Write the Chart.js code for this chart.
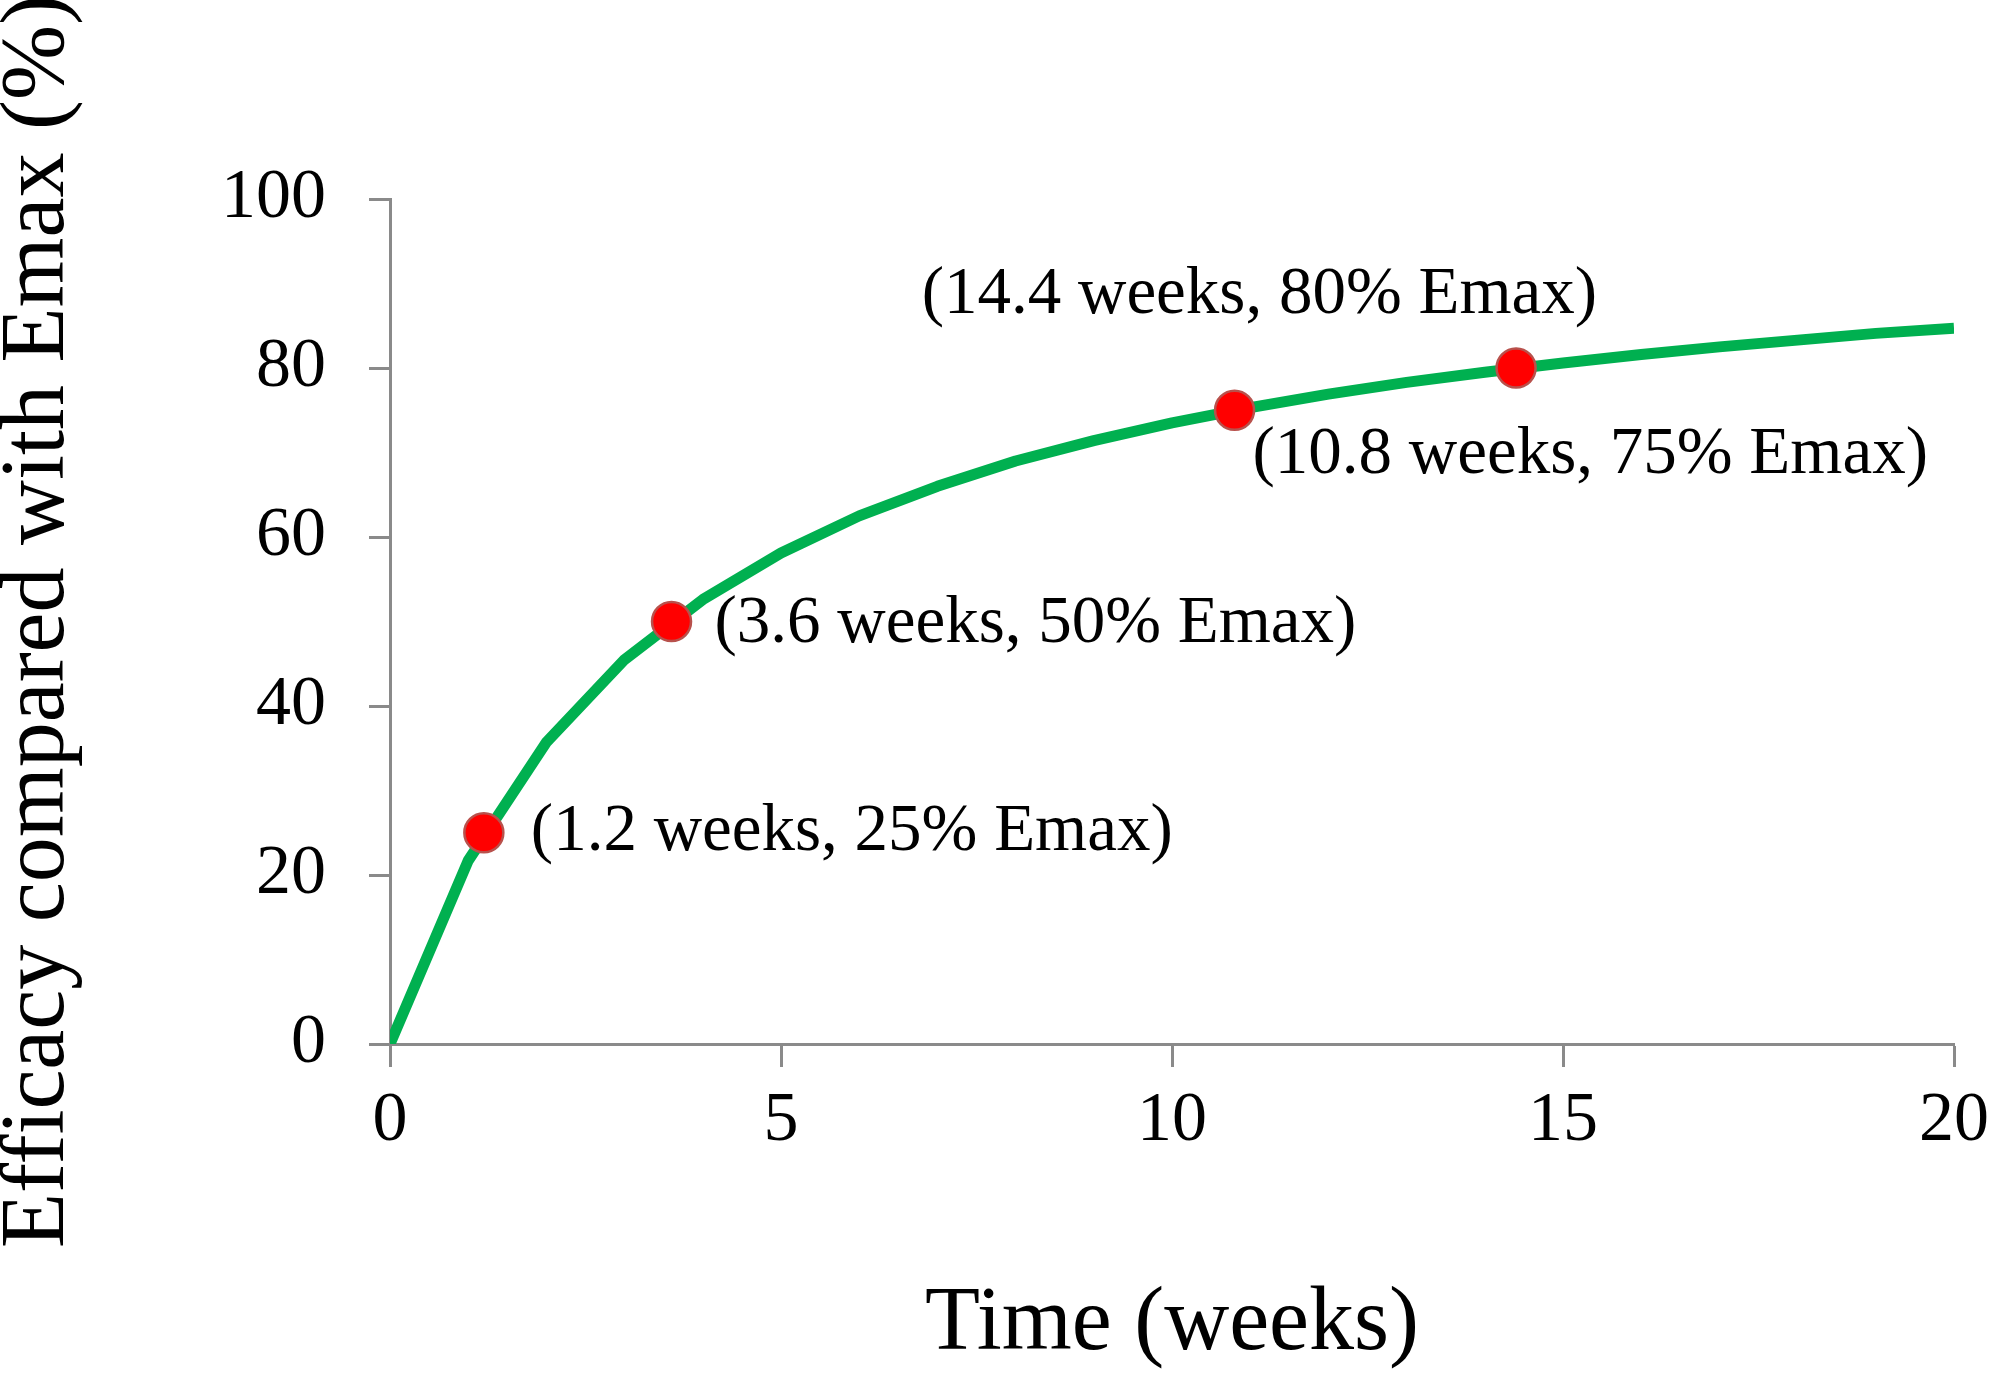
<!DOCTYPE html>
<html>
<head>
<meta charset="utf-8">
<script src="https://cdn.jsdelivr.net/npm/chart.js@4.4.1/dist/chart.umd.min.js"></script>
<style>
  html, body { margin: 0; padding: 0; background: #fff; }
  #wrap { width: 1995px; height: 1376px; }
</style>
</head>
<body>
<div id="wrap"><canvas id="emaxChart" width="1995" height="1376"></canvas></div>
<script>
// curve, one point per week
const weeks = [0, 1, 2, 3, 4, 5, 6, 7, 8, 9, 10, 11, 12, 13, 14, 15, 16, 17, 18, 19, 20];
const efficacy = [0, 21.7, 35.7, 45.5, 52.6, 58.1, 62.5, 66.0, 69.0, 71.4, 73.5, 75.3, 76.9, 78.3, 79.5, 80.6, 81.6, 82.5, 83.3, 84.1, 84.7];

// highlighted points
const markerWeeks = [1.2, 3.6, 10.8, 14.4];
const markerEfficacy = [25, 50, 75, 80];
const markerLabels = [
  '(1.2 weeks, 25% Emax)',
  '(3.6 weeks, 50% Emax)',
  '(10.8 weeks, 75% Emax)',
  '(14.4 weeks, 80% Emax)'
];

const xTicks = [0, 5, 10, 15, 20];
const yTicks = [0, 20, 40, 60, 80, 100];

// label placement relative to its point: dx, dy, align
const labelOffsets = [[47, 0, 'left'], [43, 3, 'left'], [18, 45, 'left'], [81, -73, 'right']];

const serif = '"Liberation Serif", "Times New Roman", serif';
const axisGrey = '#8a8a8a';

const pointLabels = {
  id: 'pointLabels',
  afterDatasetsDraw(chart) {
    const { ctx, scales: { x, y } } = chart;
    ctx.save();
    ctx.font = '67px ' + serif;
    ctx.fillStyle = '#000';
    ctx.textBaseline = 'middle';
    markerLabels.forEach((txt, i) => {
      const [dx, dy, align] = labelOffsets[i];
      ctx.textAlign = align;
      ctx.fillText(txt, x.getPixelForValue(markerWeeks[i]) + dx, y.getPixelForValue(markerEfficacy[i]) + dy);
    });
    ctx.restore();
  }
};

const ctx = document.getElementById('emaxChart').getContext('2d');
new Chart(ctx, {
  type: 'scatter',
  data: {
    datasets: [
      {
        data: markerWeeks.map((w, i) => ({ x: w, y: markerEfficacy[i] })),
        backgroundColor: '#ff0000',
        borderColor: '#b8514c',
        borderWidth: 2.5,
        pointRadius: 19.5,
        order: 1
      },
      {
        data: weeks.map((w, i) => ({ x: w, y: efficacy[i] })),
        showLine: true,
        borderColor: '#00b050',
        borderWidth: 11,
        borderCapStyle: 'butt',
        borderJoinStyle: 'round',
        tension: 0,
        pointRadius: 0,
        order: 2
      }
    ]
  },
  options: {
    responsive: false,
    devicePixelRatio: 1,
    animation: false,
    layout: { padding: { top: 199, right: 41, bottom: 0, left: 0 } },
    plugins: {
      legend: { display: false },
      tooltip: { enabled: false }
    },
    scales: {
      x: {
        type: 'linear',
        min: 0,
        max: 20,
        afterFit: (scale) => {
          scale.height = 332;
          scale.paddingLeft = 0;
          scale.paddingRight = 0;
        },
        afterBuildTicks: (scale) => { scale.ticks = xTicks.map(v => ({ value: v })); },
        ticks: { color: '#000', padding: 13, font: { family: serif, size: 70 } },
        grid: { drawOnChartArea: false, tickLength: 23, tickColor: axisGrey, tickWidth: 3 },
        border: { color: axisGrey, width: 3 },
        title: { display: true, text: 'Time (weeks)', color: '#000', padding: 0, font: { family: serif, size: 90, lineHeight: 1.12 } }
      },
      y: {
        min: 0,
        max: 100,
        afterFit: (scale) => { scale.width = 390; },
        afterBuildTicks: (scale) => { scale.ticks = yTicks.map(v => ({ value: v })); },
        ticks: { color: '#000', padding: 43, font: { family: serif, size: 70 } },
        grid: { drawOnChartArea: false, tickLength: 21, tickColor: axisGrey, tickWidth: 3 },
        border: { color: axisGrey, width: 3 },
        title: { display: true, text: 'Efficacy compared with Emax (%)', color: '#000', padding: 0, font: { family: serif, size: 90, lineHeight: 0.867 } }
      }
    }
  },
  plugins: [pointLabels]
});
</script>
</body>
</html>
